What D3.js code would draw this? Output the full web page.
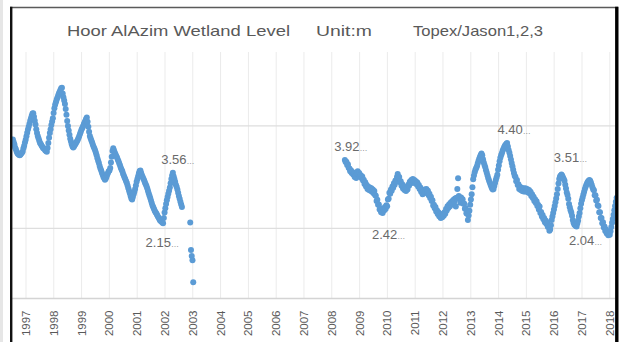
<!DOCTYPE html>
<html>
<head>
<meta charset="utf-8">
<script src="https://cdn.jsdelivr.net/npm/d3@7"></script>
<style>
  html, body { margin: 0; padding: 0; background: #fff; }
  svg { display: block; }
</style>
</head>
<body>
<svg id="chart" width="633" height="342"></svg>
<script>
// Water level of Hoor AlAzim wetland from satellite altimetry (m), one value per ~10-day repeat cycle.
const titleParts = ["Hoor AlAzim Wetland Level", "Unit:m", "Topex/Jason1,2,3"];
const yearTicks = d3.range(1997, 2019);
const levelGrid = [2, 4.9];
const cycleDays = 9.9156;

// Topex/Poseidon period (null = no pass in that cycle)
const topexStart = "1996-07-19";
const topexLevels = [
  4.50,4.43,4.36,4.27,4.22,4.16,4.11,4.09,4.07,4.05,
  4.07,4.10,4.12,4.16,4.25,4.32,4.41,4.49,4.59,4.69,
  4.78,4.86,4.94,5.03,5.10,5.17,5.23,5.24,5.14,5.03,
  4.92,4.79,4.68,4.60,4.53,4.46,4.40,4.37,4.33,4.29,
  4.26,4.24,4.22,4.19,4.17,4.15,4.26,4.40,4.55,4.68,
  4.79,4.91,5.01,5.10,5.25,5.38,5.48,5.55,5.62,5.68,
  5.74,5.80,5.85,5.90,5.95,5.96,5.80,5.69,5.60,5.50,
  5.36,5.20,5.02,4.88,4.75,4.63,4.52,4.44,4.36,4.30,
  4.27,4.30,4.34,4.37,4.41,4.45,4.49,4.54,4.60,4.66,
  4.72,4.78,4.82,4.87,4.93,4.98,5.03,5.08,5.12,5.00,
  4.86,4.72,4.60,4.53,4.47,4.41,4.35,4.29,4.24,4.19,
  4.12,4.05,3.97,3.90,3.83,3.75,3.68,3.62,3.56,3.50,
  3.44,3.40,3.36,3.39,3.44,3.50,3.55,3.60,3.62,3.69,
  3.85,4.01,4.17,4.25,4.19,4.13,4.08,4.03,3.99,3.93,
  3.88,3.82,3.76,3.70,3.65,3.60,3.53,3.48,3.42,3.37,
  3.32,3.27,3.20,3.12,3.05,2.98,2.90,2.83,2.80,2.87,
  2.95,3.02,3.10,3.20,3.30,3.38,3.46,3.54,3.61,3.62,
  3.55,3.49,3.44,3.39,3.34,3.28,3.23,3.18,3.12,3.05,
  2.98,2.91,2.84,2.77,2.70,2.63,2.58,2.53,2.48,2.44,
  2.41,2.37,2.33,2.29,2.25,2.21,2.19,2.17,2.15,2.13,
  2.28,2.43,2.55,2.67,2.78,2.87,2.96,3.05,3.14,3.26,
  3.38,3.48,3.56,3.46,3.38,3.30,3.22,3.16,3.08,2.99,
  2.90,2.82,2.74,2.66,2.59,null,null,null,null,null,
  null,null,null,null,null,2.15,1.37,1.20,1.08,0.46
];

// Jason-1/2/3 period
const jasonStart = "2008-06-28";
const jasonLevels = [
  3.92,3.86,3.87,3.78,3.80,3.70,3.68,3.60,3.63,3.55,
  3.58,3.51,3.53,3.44,3.48,3.41,3.52,3.60,3.52,3.55,
  3.45,3.49,3.41,3.45,3.34,3.36,3.24,3.29,3.17,3.21,
  3.10,3.16,3.07,3.14,3.05,3.12,3.02,3.08,2.98,3.04,
  2.93,2.91,2.76,2.79,2.65,2.66,2.52,2.55,2.44,2.49,
  2.42,2.51,2.49,2.59,2.53,2.64,2.61,2.80,2.82,2.99,
  2.96,3.08,3.05,3.17,3.13,3.26,3.22,3.34,3.30,3.44,
  3.52,3.44,3.44,3.29,3.32,3.19,3.23,3.11,3.17,3.07,
  3.13,3.04,3.11,3.08,3.22,3.19,3.30,3.25,3.35,3.29,
  3.38,3.30,3.35,3.26,3.32,3.23,3.28,3.17,3.21,3.10,
  3.14,3.02,3.06,2.95,3.04,2.98,3.08,3.01,3.10,3.01,
  3.05,2.92,2.96,2.84,2.88,2.76,2.78,2.63,2.65,2.55,
  2.59,2.46,2.50,2.39,2.44,2.33,2.38,2.28,2.35,2.30,
  2.40,2.34,2.44,2.40,2.53,2.49,2.61,2.56,2.66,2.60,
  2.71,2.65,2.75,2.69,2.79,2.73,2.83,2.60,2.85,3.10,
  3.40,2.90,2.80,2.71,2.86,2.75,2.81,2.68,2.69,2.54,
  2.56,2.41,2.40,2.22,2.35,2.48,2.65,2.80,2.95,3.15,
  3.37,3.48,3.57,3.64,3.69,3.74,3.82,3.89,3.95,4.01,
  4.06,4.10,4.05,3.94,3.85,3.78,3.71,3.63,3.56,3.48,
  3.40,3.34,3.28,3.22,3.16,3.11,3.08,3.10,3.18,3.27,
  3.35,3.42,3.50,3.64,3.76,3.88,3.98,4.05,4.11,4.18,
  4.23,4.28,4.32,4.35,4.38,4.40,4.30,4.20,4.12,4.03,
  3.93,3.83,3.74,3.64,3.55,3.47,3.44,3.32,3.35,3.21,
  3.23,3.10,3.16,3.07,3.13,3.04,3.11,3.03,3.12,3.03,
  3.11,3.03,3.09,3.00,3.07,2.97,3.02,2.90,2.95,2.84,
  2.88,2.76,2.81,2.70,2.75,2.62,2.65,2.52,2.60,2.42,
  2.45,2.32,2.36,2.24,2.28,2.16,2.21,2.11,2.16,2.02,
  2.05,1.92,1.95,2.07,2.22,2.32,2.42,2.52,2.62,2.72,
  2.83,2.95,3.10,3.25,3.38,3.45,3.48,3.51,3.47,3.42,
  3.38,3.33,3.22,3.11,3.00,2.93,2.82,2.67,2.58,2.50,
  2.43,2.34,2.22,2.14,2.09,2.07,2.05,2.04,2.12,2.20,
  2.32,2.42,2.55,2.68,2.78,2.86,2.94,3.02,3.10,3.16,
  3.22,3.27,3.30,3.33,3.35,3.33,3.28,3.22,3.15,3.08,
  3.06,2.92,2.92,2.77,2.79,2.64,2.62,2.44,2.44,2.28,
  2.28,2.13,2.16,2.01,2.04,1.91,1.95,1.84,1.89,1.79,
  1.85,1.80,1.90,2.02,2.14,2.25,2.37,2.50,2.62,2.74,2.85
];

// Cycles whose value is written next to the marker
const topexCallouts = [212, 235];
const jasonCallouts = [0, 50, 215, 287, 307];

// ---- layout & style ----
const svg = d3.select("#chart");
const plot = { left: 12, right: 615.5, top: 52, bottom: 298.5 };
const ink = "#595959";
const markerBlue = "#5b9bd5";
const calloutOffset = {
  topex: { 212: [5, -13], 235: [-28, 20] },
  jason: { 0: [6, -13], 50: [6, 21], 215: [7, -14], 287: [9, -17], 307: [9, 14] }
};

const x = d3.scaleUtc()
  .domain([Date.UTC(1997, 0, 1), Date.UTC(2018, 0, 1)])
  .range([25.5, 609.3]);
const y = d3.scaleLinear().domain([0, 7]).range([298.5, 51.05]);

const parse = d3.utcParse("%Y-%m-%d");
function toPoints(start, levels) {
  const t0 = +parse(start);
  return levels.map((v, i) => v == null ? null : { date: new Date(t0 + i * cycleDays * 864e5), v, i })
               .filter(Boolean);
}
const topex = toPoints(topexStart, topexLevels);
const jason = toPoints(jasonStart, jasonLevels);

// page edge strip
svg.append("rect").attr("x", 0).attr("y", 0).attr("width", 3).attr("height", 342).attr("fill", "#e6e6e6");

// clip for the plotting area
svg.append("defs").append("clipPath").attr("id", "plotClip")
  .append("rect").attr("x", plot.left).attr("y", plot.top - 10)
  .attr("width", plot.right - plot.left).attr("height", plot.bottom - plot.top + 10);

// vertical year gridlines
const xAxis = d3.axisBottom(x)
  .tickValues(yearTicks.map(yr => new Date(Date.UTC(yr, 0, 1))))
  .tickSize(-(plot.bottom - plot.top))
  .tickFormat(d3.utcFormat("%Y"));
const gx = svg.append("g").attr("transform", `translate(0,${plot.bottom})`).call(xAxis);
gx.select(".domain").remove();
gx.selectAll(".tick line").attr("stroke", "#ebebeb").attr("stroke-width", 1);
gx.selectAll(".tick text")
  .attr("transform", "rotate(-90)")
  .attr("text-anchor", "end")
  .attr("x", -12).attr("y", 0).attr("dy", "0.35em")
  .attr("fill", ink)
  .style("font-family", "'Liberation Sans', Arial, sans-serif")
  .style("font-size", "11.5px");

// horizontal level gridlines
const yAxis = d3.axisLeft(y).tickValues(levelGrid).tickSize(-(plot.right - plot.left)).tickFormat("");
const gy = svg.append("g").attr("transform", `translate(${plot.left},0)`).call(yAxis);
gy.select(".domain").remove();
gy.selectAll(".tick line").attr("stroke", "#dedede").attr("stroke-width", 1.2);

// category axis line
svg.append("line")
  .attr("x1", plot.left).attr("x2", plot.right)
  .attr("y1", y(0)).attr("y2", y(0))
  .attr("stroke", "#d4d4d4").attr("stroke-width", 1.3);

// markers
const marks = svg.append("g").attr("clip-path", "url(#plotClip)");
marks.selectAll("circle")
  .data(topex.concat(jason))
  .join("circle")
  .attr("cx", d => x(d.date))
  .attr("cy", d => y(d.v))
  .attr("r", 3)
  .attr("fill", markerBlue);

// value callouts
function callouts(points, idxList, offsets) {
  idxList.forEach(idx => {
    const p = points.find(d => d.i === idx);
    const [dx, dy] = offsets[idx];
    const t = svg.append("text")
      .attr("x", x(p.date) + dx).attr("y", y(p.v) + dy)
      .attr("dy", "0.35em")
      .attr("text-anchor", "middle")
      .attr("fill", "#6a6a6a")
      .style("font-family", "'Liberation Sans', Arial, sans-serif")
      .style("font-size", "13px");
    t.append("tspan").text(p.v.toFixed(2));
    t.append("tspan").style("font-size", "8px").text("\u2026");
  });
}
callouts(topex, topexCallouts, calloutOffset.topex);
callouts(jason, jasonCallouts, calloutOffset.jason);

// title
const titleX = [67, 316, 413];
const titleW = [223, 56, 130];
titleParts.forEach((s, k) => {
  svg.append("text")
    .attr("x", titleX[k]).attr("y", 36)
    .attr("textLength", titleW[k]).attr("lengthAdjust", "spacingAndGlyphs")
    .attr("fill", ink)
    .style("font-family", "'Liberation Sans', Arial, sans-serif")
    .style("font-size", "15px")
    .text(s);
});

// outer frame
svg.append("line").attr("x1", 10).attr("x2", 618).attr("y1", 7.5).attr("y2", 7.5)
  .attr("stroke", "#5a5a5a").attr("stroke-width", 1.6);
svg.append("line").attr("x1", 11.2).attr("x2", 11.2).attr("y1", 6.7).attr("y2", 342)
  .attr("stroke", "#111").attr("stroke-width", 2.4);
svg.append("line").attr("x1", 616.8).attr("x2", 616.8).attr("y1", 6.7).attr("y2", 342)
  .attr("stroke", "#000").attr("stroke-width", 3.4);
</script>
</body>
</html>
